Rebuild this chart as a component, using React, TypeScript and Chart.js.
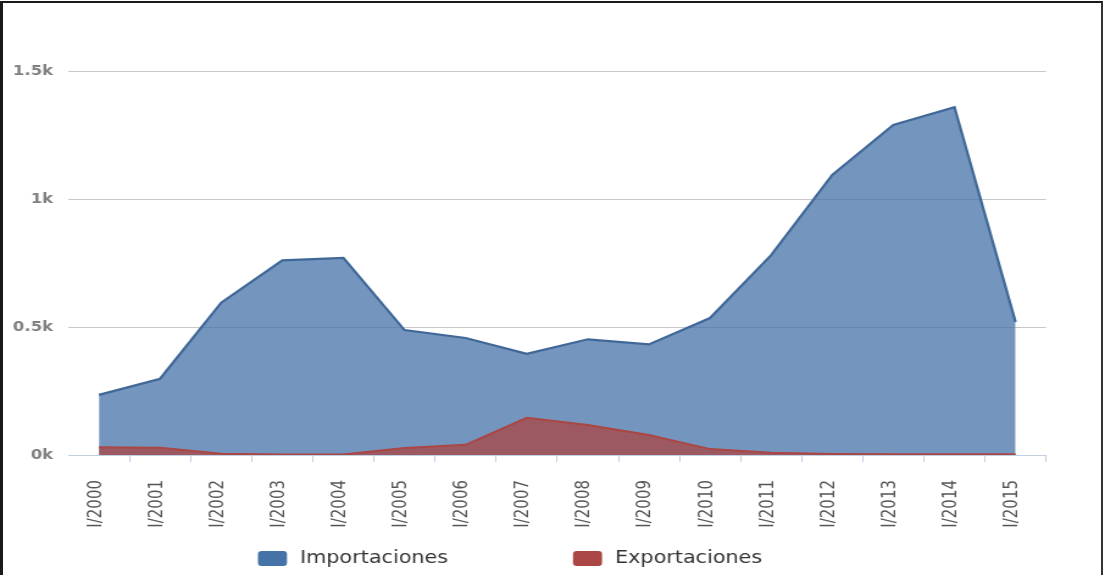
import React, { useEffect, useRef } from "react";
import { Chart, registerables } from "chart.js";

Chart.register(...registerables);

const categories = [
  "I/2000", "I/2001", "I/2002", "I/2003", "I/2004", "I/2005", "I/2006", "I/2007",
  "I/2008", "I/2009", "I/2010", "I/2011", "I/2012", "I/2013", "I/2014", "I/2015",
];
const importaciones = [235, 298, 595, 760, 770, 488, 457, 395, 452, 432, 535, 781, 1094, 1289, 1359, 520];
const exportaciones = [30, 28, 5, 2, 2, 27, 40, 145, 117, 78, 23, 9, 4, 3, 3, 3];
const yTicks = [0, 500, 1000, 1500];
const seriesNames = ["Importaciones", "Exportaciones"];

const IW = 906; // internal canvas width (stretched to 1105 on screen)
const IH = 575;
const FONT = '"DejaVu Sans", sans-serif';

const legendPlugin = {
  id: "customLegend",
  afterDraw(chart: any) {
    const ctx = chart.ctx as CanvasRenderingContext2D;
    const items = [
      { label: seriesNames[0], color: "#4572A7" },
      { label: seriesNames[1], color: "#AA4643" },
    ];
    ctx.save();
    ctx.font = `17px ${FONT}`;
    ctx.textBaseline = "middle";
    ctx.textAlign = "left";
    let x = 211.5;
    const boxW = 23.8;
    const boxH = 15;
    const yMid = 559;
    items.forEach((it) => {
      ctx.fillStyle = it.color;
      ctx.beginPath();
      (ctx as any).roundRect(x, yMid - boxH / 2 - 0.5, boxW, boxH, 3);
      ctx.fill();
      const tx = x + boxW + 10.7;
      ctx.fillStyle = "#333333";
      ctx.fillText(it.label, tx, yMid);
      x = tx + ctx.measureText(it.label).width + 102.4;
    });
    ctx.restore();
  },
};

export default function App() {
  const canvasRef = useRef<HTMLCanvasElement | null>(null);

  useEffect(() => {
    document.body.style.margin = "0";
    const canvas = canvasRef.current;
    if (!canvas) return;
    const chart = new Chart(canvas, {
      type: "line",
      data: {
        labels: categories,
        datasets: [
          {
            label: seriesNames[0],
            data: importaciones,
            borderColor: "#3f6797",
            backgroundColor: "rgba(69,114,167,0.75)",
            borderWidth: 2.2,
            fill: "origin",
            pointRadius: 0,
            tension: 0,
            order: 1,
          },
          {
            label: seriesNames[1],
            data: exportaciones,
            borderColor: "#AA4643",
            backgroundColor: "rgba(170,70,67,0.75)",
            borderWidth: 2,
            fill: "origin",
            pointRadius: 0,
            tension: 0,
            order: 0,
          },
        ],
      },
      options: {
        responsive: false,
        animation: false,
        devicePixelRatio: 1,
        layout: { padding: { top: 71, right: 48.3, left: 0, bottom: 0 } },
        plugins: {
          legend: { display: false },
          tooltip: { enabled: false },
          title: { display: false },
        },
        scales: {
          x: {
            type: "category",
            offset: true,
            afterFit: (scale: any) => {
              scale.height = 120;
            },
            grid: {
              offset: true,
              drawOnChartArea: false,
              drawTicks: true,
              tickLength: 7,
              color: (c: any) => (c.index === 0 ? "rgba(0,0,0,0)" : "#C0D0E0"),
            },
            border: { display: true, color: "#C0D0E0", width: 1 },
            ticks: {
              autoSkip: false,
              maxRotation: 90,
              minRotation: 90,
              padding: 18,
              labelOffset: -2.5,
              color: "#555555",
              font: { family: FONT, size: 15 },
            },
          },
          y: {
            min: 0,
            max: 1500,
            afterFit: (scale: any) => {
              scale.width = 56.1;
            },
            afterBuildTicks: (scale: any) => {
              scale.ticks = yTicks.map((v) => ({ value: v }));
            },
            grid: {
              drawTicks: false,
              color: (c: any) => (c.index === 0 ? "rgba(0,0,0,0)" : "#C8C8C8"),
              lineWidth: 1,
            },
            border: { display: false },
            ticks: {
              padding: 12.6,
              color: "#808080",
              font: { family: FONT, size: 13.5, weight: "bold" },
              callback: (v: any) => `${Number(v) / 1000}k`,
            },
          },
        },
      },
      plugins: [legendPlugin],
    });
    return () => chart.destroy();
  }, []);

  return (
    <div style={{ position: "relative", width: 1105, height: 575, overflow: "hidden", background: "#fff" }}>
      <canvas
        ref={canvasRef}
        width={IW}
        height={IH}
        style={{ width: "1105px", height: "575px", display: "block" }}
      />
      <div
        style={{
          position: "absolute",
          left: 0,
          top: 1,
          width: 1103,
          height: 620,
          boxSizing: "border-box",
          borderLeft: "3px solid #1a1a1a",
          borderTop: "2px solid #1a1a1a",
          borderRight: "2px solid #333",
          pointerEvents: "none",
        }}
      />
    </div>
  );
}
